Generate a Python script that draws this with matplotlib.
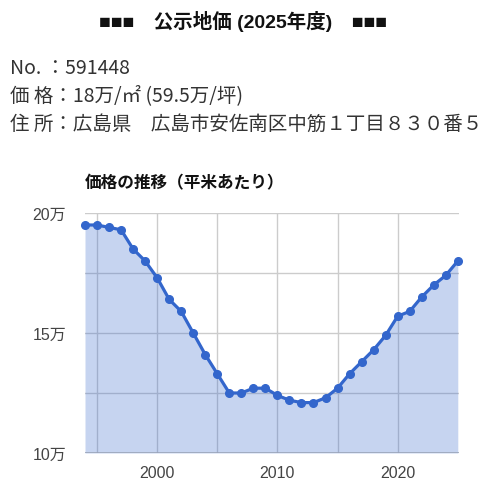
import matplotlib
matplotlib.use("Agg")
import matplotlib.pyplot as plt

plt.rcParams['font.family'] = ['Noto Sans CJK JP', 'DejaVu Sans']

years = list(range(1994, 2026))
prices = [19.5, 19.5, 19.4, 19.3, 18.5, 18.0, 17.3, 16.4, 15.9, 15.0,
          14.1, 13.3, 12.5, 12.5, 12.7, 12.7, 12.4, 12.2, 12.1, 12.1,
          12.3, 12.7, 13.3, 13.8, 14.3, 14.9, 15.7, 15.9, 16.5, 17.0,
          17.4, 18.0]
y_ticks = [10, 15, 20]
y_tick_labels = ['10万', '15万', '20万']
x_ticks = [2000, 2010, 2020]
x_tick_labels = ['2000', '2010', '2020']

title = '■■■　公示地価 (2025年度)　■■■'
info_lines = ['No. ：591448',
              '価 格：18万/㎡ (59.5万/坪)',
              '住 所：広島県　広島市安佐南区中筋１丁目８３０番５']
subtitle = '価格の推移（平米あたり）'

W, H = 487, 489
fig = plt.figure(figsize=(W / 100, H / 100), dpi=100)
fig.patch.set_facecolor('white')

fig.text(243 / W, 1 - 22 / H, title, ha='center', va='center',
         fontsize=14, fontweight='bold', color='#111111',
         family=['Liberation Sans', 'Noto Sans CJK JP'])
for i, line in enumerate(info_lines):
    fig.text(10 / W, 1 - (68 + 28 * i) / H, line, ha='left', va='center',
             fontsize=14, color='#333333')
fig.text(85 / W, 1 - 183 / H, subtitle, ha='left', va='center',
         fontsize=12, fontweight='bold', color='#111111')

ax = fig.add_axes([85 / W, 1 - 454 / H, 374 / W, 240 / H])
ax.set_xlim(1994, 2025.1)
ax.set_ylim(10, 20)

# gridlines
for yv in [12.5, 15, 17.5, 20]:
    ax.axhline(yv, color='#cccccc', lw=1, zorder=1)
for xv in [1995, 2000, 2005, 2010, 2015, 2020]:
    ax.axvline(xv, color='#cccccc', lw=1, zorder=1)
ax.axhline(10, color='#9aa4b8', lw=1.2, zorder=4)

ax.fill_between(years, prices, 10, color='#3366cc', alpha=0.28, lw=0, zorder=2)
ax.plot(years, prices, color='#3366cc', lw=2.3, marker='o', markersize=5.5,
        zorder=3, clip_on=False)

for s in ax.spines.values():
    s.set_visible(False)
ax.set_yticks(y_ticks)
ax.set_yticklabels(y_tick_labels)
ax.set_xticks(x_ticks)
ax.set_xticklabels(x_tick_labels)
tick_family = ['Liberation Sans', 'Noto Sans CJK JP']
for lab in ax.get_xticklabels() + ax.get_yticklabels():
    lab.set_family(tick_family)
ax.tick_params(axis='both', length=0, labelsize=11.5, labelcolor='#444444')
ax.tick_params(axis='y', pad=13.5)
ax.tick_params(axis='x', pad=9)

fig.savefig('out.png', dpi=100)
